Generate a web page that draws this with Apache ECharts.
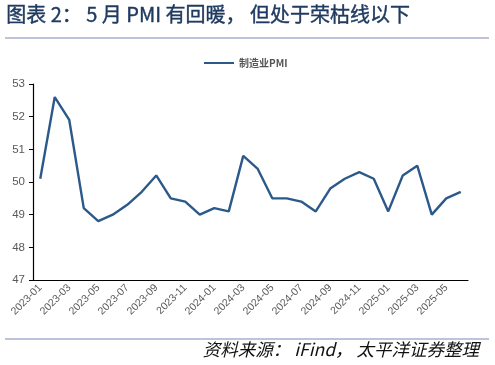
<!DOCTYPE html>
<html><head><meta charset="utf-8">
<script src="https://cdn.jsdelivr.net/npm/echarts@6/dist/echarts.min.js"></script>
<style>html,body{margin:0;padding:0;background:#fff}#c{width:495px;height:365px}</style>
</head><body><div id="c"></div>
<script>
const categories = ['2023-01','2023-02','2023-03','2023-04','2023-05','2023-06','2023-07','2023-08','2023-09','2023-10','2023-11','2023-12',
'2024-01','2024-02','2024-03','2024-04','2024-05','2024-06','2024-07','2024-08','2024-09','2024-10','2024-11','2024-12',
'2025-01','2025-02','2025-03','2025-04','2025-05','2025-06'];
const pmi = [50.1,52.6,51.9,49.2,48.8,49.0,49.3,49.7,50.2,49.5,49.4,49.0,
49.2,49.1,50.8,50.4,49.5,49.5,49.4,49.1,49.8,50.1,50.3,50.1,
49.1,50.2,50.5,49.0,49.5,49.7];
const seriesName = '制造业PMI';
const titleText = '图表 2： 5 月 PMI 有回暖， 但处于荣枯线以下';
const sourceText = '资料来源： iFind， 太平洋证券整理';

const chart = echarts.init(document.getElementById('c'));
chart.setOption({
  animation: false,
  graphic: [
    {type:'text', left: 6, top: 4, style:{text: titleText, fontSize: 20, fontWeight: 'normal', fill:'#1f3a60', stroke:'#1f3a60', lineWidth:0.4, fontFamily:'"Noto Sans CJK SC", sans-serif'}},
    {type:'line', shape:{x1:5,y1:38,x2:489,y2:38}, style:{stroke:'#a9aed0', lineWidth:1.5}},
    {type:'line', shape:{x1:5,y1:339,x2:489,y2:339}, style:{stroke:'#a9aed0', lineWidth:1.5}},
    {type:'text', right: 16, top: 341, style:{text: sourceText, fontSize: 17.5, fontStyle:'italic', fill:'#111', fontFamily:'"Noto Sans CJK SC", sans-serif'}}
  ],
  legend: {
    top: 53, left: 199, itemWidth: 30, itemHeight: 2, itemGap: 4,
    icon: 'rect',
    textStyle: {fontSize: 10, color:'#555', fontWeight:'bold', fontFamily:'"Noto Sans CJK SC", sans-serif'},
    data: [seriesName]
  },
  grid: {left: 33, right: 27, top: 84, bottom: 85, containLabel: false},
  xAxis: {
    type:'category', data: categories, boundaryGap: true,
    axisLine:{lineStyle:{color:'#000', width:1.2}},
    axisTick:{interval:1, length:4, lineStyle:{color:'#000'}},
    axisLabel:{interval:1, rotate:45, fontSize:10.5, color:'#595959', margin:6, fontFamily:'"Liberation Sans", Arial, sans-serif'}
  },
  yAxis: {
    type:'value', min:47, max:53, interval:1,
    axisLine:{show:true, lineStyle:{color:'#000', width:1.2}},
    axisTick:{show:true, inside:false, length:4, lineStyle:{color:'#000'}},
    axisLabel:{fontSize:11.5, color:'#595959', margin:8, fontFamily:'"Liberation Sans", Arial, sans-serif'},
    splitLine:{show:false}
  },
  series: [{
    name: seriesName, type:'line', data: pmi, symbol:'none',
    lineStyle:{color:'#2b5a8a', width:2.4}, itemStyle:{color:'#2b5a8a'}
  }]
});
</script></body></html>
